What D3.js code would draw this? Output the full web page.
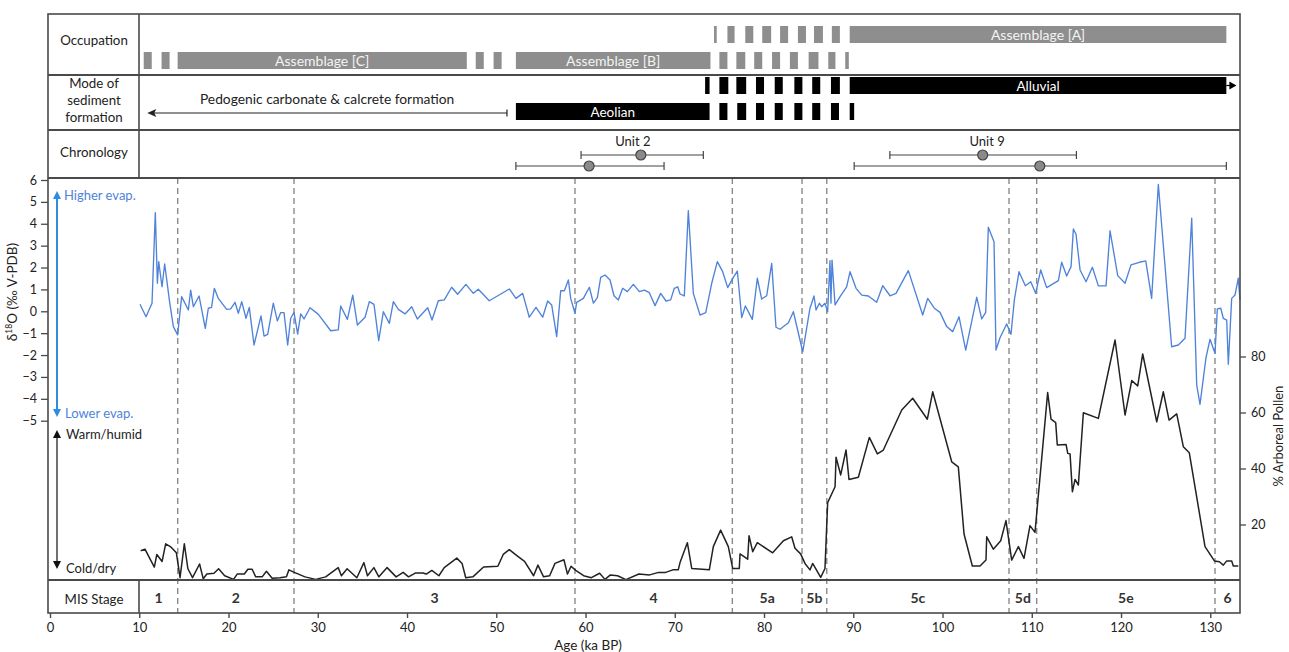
<!DOCTYPE html>
<html><head><meta charset="utf-8">
<script src="https://cdn.jsdelivr.net/npm/d3@7"></script>
<style>body{margin:0;background:#fff} text{font-family:Lato,"Open Sans",sans-serif}</style>
</head><body><svg id="c" width="1289" height="652"></svg>
<script>
// ---------------- DATA ----------------
const o18Age = [10.08,10.76,11.43,11.8,12.03,12.18,12.55,12.85,13.37,13.82,14.3,14.75,15.5,15.76,16.06,16.7,17.4,17.74,18.1,18.41,18.86,19.79,20.24,20.73,21.1,21.48,21.96,22.33,22.86,23.64,23.98,24.39,25.02,25.47,25.85,26.22,26.63,26.97,27.34,27.75,28.09,28.46,29.13,30.07,31.45,32.3,32.57,33.32,33.92,34.44,35.3,35.78,36.3,36.83,37.35,38.02,38.47,39.03,39.78,40.53,41.16,42.32,42.8,43.51,44.18,45.0,45.67,46.6,47.43,47.99,49.22,51.46,52.21,52.96,53.7,54.45,55.2,55.76,56.21,56.77,57.22,57.63,58.08,58.34,58.82,59.01,59.76,60.43,60.88,61.33,61.7,62.18,62.75,63.19,63.68,64.16,64.69,65.36,66.03,66.59,67.15,67.79,68.42,69.02,69.54,69.95,70.33,70.59,71.07,71.52,72.08,72.83,73.47,74.14,74.77,75.37,75.93,76.56,77.01,77.5,77.91,78.69,79.25,79.74,80.3,80.86,81.34,81.79,82.73,83.29,84.34,85.15,85.6,85.83,86.2,86.46,86.83,87.13,87.39,87.5,87.62,87.96,88.52,89.26,89.64,90.31,90.95,91.69,92.62,93.3,94.12,94.79,96.17,97.78,98.34,99.08,99.72,100.47,101.14,101.85,102.6,103.83,104.39,104.84,105.13,105.77,105.99,106.44,107.19,107.67,108.05,108.57,109.28,109.88,110.44,111.0,111.67,112.98,113.35,113.91,114.4,114.66,114.96,115.41,116.08,116.79,117.46,118.32,118.77,119.63,120.45,121.12,122.05,122.77,123.43,124.18,125.67,126.42,127.17,127.92,128.48,128.85,129.52,129.97,130.53,130.79,131.17,131.46,131.84,132.02,132.4,132.77,133.14,133.33];
const o18Val = [0.32,-0.25,0.37,4.51,1.28,2.27,1.12,2.16,0.52,-0.70,-1.08,0.67,0.06,0.97,0.21,0.70,-0.78,0.14,0.18,1.05,0.59,0.09,0.11,0.41,-0.09,0.44,-0.32,0.18,-1.54,-0.21,-1.13,-1.05,0.37,-0.44,-0.06,-0.06,-1.54,-0.32,-0.05,-1.04,-0.12,-0.35,0.16,-0.14,-0.89,-0.85,0.24,-0.37,0.74,-0.63,-0.27,0.44,0.32,-1.34,-0.02,-0.55,0.44,0.09,-0.12,0.21,-0.35,0.16,-0.40,0.48,0.52,1.10,0.78,1.23,0.82,1.01,0.48,1.02,0.59,0.82,-0.27,0.18,-0.27,0.47,0.29,-1.16,0.94,0.94,1.43,0.59,-0.09,0.41,0.59,1.10,0.37,0.62,1.55,1.66,1.43,0.71,0.52,1.05,0.90,1.23,0.90,0.97,0.85,0.26,0.82,0.47,0.52,1.05,1.12,0.79,0.70,4.60,0.82,-0.17,-0.06,1.28,2.27,1.81,1.08,1.55,1.84,-0.29,0.24,-0.37,1.51,0.56,0.71,2.19,-0.73,-0.82,-0.52,-0.02,-1.85,0.14,0.70,0.06,0.37,0.21,0.37,-0.02,2.31,0.37,2.34,0.29,0.67,1.12,1.81,1.05,0.74,0.70,0.41,1.17,0.71,0.82,1.86,-0.17,0.59,0.14,-0.05,-0.70,-0.93,-0.25,-1.77,0.64,-0.35,-0.05,3.84,3.18,-1.77,-1.21,-0.58,-1.05,0.52,1.81,1.17,1.35,0.82,1.89,1.08,1.40,2.24,1.61,2.04,3.76,3.52,1.89,1.35,2.01,1.16,1.16,3.68,1.63,1.28,2.12,2.24,2.30,0.59,5.80,-1.62,-1.54,-1.23,4.25,-3.37,-4.25,-2.12,-1.28,-1.92,0.11,0.14,-0.32,-0.40,-2.42,0.59,0.74,1.51,0.52];

const pollenAge = [10.16,10.64,11.16,11.69,11.97,12.56,12.96,13.57,14.16,14.57,15.05,15.45,15.97,16.76,17.17,17.57,18.37,18.89,19.57,20.57,20.97,21.77,22.17,22.65,23.05,23.77,24.25,24.89,25.77,26.49,26.77,27.37,28.57,29.77,30.89,31.57,32.29,32.65,33.29,34.38,35.17,35.57,36.29,36.85,37.77,38.78,39.57,40.17,40.97,41.78,42.17,42.78,43.57,44.17,45.58,46.17,46.58,47.38,48.58,50.18,50.78,51.46,52.38,53.17,54.18,54.67,55.3,55.98,56.58,57.58,57.98,58.38,58.9,59.79,60.66,61.58,62.18,62.79,63.59,64.53,65.98,67.18,68.19,68.98,69.79,70.39,70.59,71.41,71.9,73.87,74.32,75.14,76.0,76.49,77.23,77.31,78.17,78.32,78.73,79.25,80.97,82.17,83.1,83.47,84.1,84.59,85.15,85.45,86.35,86.83,87.13,87.96,88.07,88.59,89.19,89.52,90.57,91.8,92.7,93.37,95.43,96.66,98.3,98.9,101.03,101.77,102.41,103.34,104.2,104.87,104.95,105.69,106.52,107.11,107.75,108.5,109.13,109.8,110.36,111.78,112.16,112.68,112.86,113.84,114.03,114.29,114.55,114.85,115.22,115.78,117.46,119.33,120.45,121.2,121.87,122.43,124.0,124.74,125.38,126.24,126.98,127.65,129.41,130.46,131.02,131.46,131.84,132.4,132.58,133.14];
const pollenVal = [10.6,11.2,8.0,4.8,9.3,6.8,13.1,11.9,9.9,1.0,13.1,4.2,1.0,5.9,0.6,2.3,2.6,4.2,1.7,0.4,2.3,2.3,4.0,4.0,1.3,1.3,3.3,0.8,1.0,1.3,3.8,2.9,1.3,0.4,1.3,2.9,4.6,1.7,4.2,1.0,6.4,1.7,4.6,1.3,4.6,1.3,2.9,1.3,2.7,2.7,2.3,3.6,1.7,4.6,8.0,6.1,1.0,1.3,4.8,5.1,9.3,11.0,8.7,6.8,1.7,5.5,1.3,1.7,6.1,7.4,2.3,5.1,3.6,1.7,1.0,2.6,0.4,2.0,1.7,0.3,2.3,2.0,2.9,2.9,3.8,3.8,6.4,13.5,4.3,3.8,12.1,18.0,12.1,4.3,4.3,9.5,7.6,16.0,10.3,13.5,9.9,14.2,15.6,11.5,9.5,6.1,3.8,6.1,1.1,4.3,27.8,33.5,44.0,37.7,46.6,36.1,36.9,51.1,45.2,46.6,60.9,65.1,57.6,67.4,42.4,40.6,16.6,5.2,5.2,7.3,15.6,11.2,14.2,21.4,7.3,12.1,7.9,19.6,17.2,67.1,57.6,56.4,48.4,48.6,45.4,45.2,31.7,36.1,34.1,59.9,57.9,85.9,59.1,71.4,69.5,80.9,56.7,67.4,57.3,59.5,47.8,45.6,12.1,7.0,6.7,5.5,7.0,7.0,5.2,5.2];

const ageTicks = [0,10,20,30,40,50,60,70,80,90,100,110,120,130];
const o18Ticks = [6,5,4,3,2,1,0,-1,-2,-3,-4,-5];
const pollenTicks = [20,40,60,80];

const misBounds = [10,14.31,27.34,58.82,76.45,84.26,87.03,107.45,110.55,130.53,133.33];
const misLabels = ["1","2","3","4","5a","5b","5c","5d","5e","6"];

const assemblageNames = ["Assemblage [A]","Assemblage [B]","Assemblage [C]"];
const assemblageSpans = [[89.6,131.8],[52.2,74.0],[14.3,46.7]];
const assemblageRows = [0,1,1];
const occUpperDashes = [[74.4,74.7],[75.9,76.7],[77.9,78.8],[79.8,80.8],[81.8,82.7],[83.8,84.7],[85.6,86.6],[87.6,88.5]];
const occLowerDashes = [[10.5,11.4],[12.5,13.4],[47.7,48.6],[49.7,50.6],[75.0,75.9],[76.9,77.9],[78.9,79.8],[80.9,81.8],[82.9,83.8],[85.0,86.1],[87.2,88.0],[89.1,89.5]];

const sedimentNames = ["Alluvial","Aeolian"];
const sedimentSpans = [[89.6,131.8],[52.2,73.9]];
const sedimentRows = [0,1];
const modeUpperDashes = [[73.4,73.9],[75.0,76.0],[76.9,78.0],[79.1,80.0],[81.2,82.1],[83.4,84.3],[85.4,86.3],[87.5,88.5]];
const modeLowerDashes = [[75.0,75.9],[77.0,78.0],[79.1,80.0],[81.2,82.1],[83.4,84.3],[85.4,86.3],[87.5,88.4],[89.6,90.1]];
const pedogenicSpan = [51.2,10.9];
const pedogenicLabel = "Pedogenic carbonate & calcrete formation";

const unitNames = ["Unit 2","Unit 9"];
const unitLabelAge = [65.3,105.0];
const dateLow = [59.5,52.2,94.1,90.1];
const dateMid = [66.2,60.4,104.5,110.9];
const dateHigh = [73.2,68.8,115.0,131.8];
const dateRow = [0,1,0,1];

// ---------------- LAYOUT ----------------
const svg = d3.select("#c");
const L = 48, R = 1240, T = 14, yOcc = 75, yMode = 130, yChr = 178, yPlotB = 580, yMis = 613, colX = 139;
const x = d3.scaleLinear().domain([0,133.33]).range([50,1240]);
const yO = d3.scaleLinear().domain([-5,6]).range([420.7,180]);
const yP = d3.scaleLinear().domain([0,100]).range([580.5,300.5]);
const frame = "#4a4a4a";
const gray = "#8e8e8e";
const blue = "#4f83da";

// dashed MIS boundaries
const dashB = misBounds.slice(1,-1);
svg.append("g").selectAll("line").data(dashB).join("line")
  .attr("x1",d=>x(d)).attr("x2",d=>x(d)).attr("y1",yChr).attr("y2",yMis)
  .attr("stroke","#8a8a8a").attr("stroke-width",1.4).attr("stroke-dasharray","6,4");

// lines
const lineO = d3.line().x((d,i)=>x(o18Age[i])).y((d,i)=>yO(o18Val[i]));
svg.append("path").attr("d",lineO(o18Age)).attr("fill","none").attr("stroke",blue).attr("stroke-width",1.35).attr("stroke-linejoin","round");
const lineP = d3.line().x((d,i)=>x(pollenAge[i])).y((d,i)=>yP(pollenVal[i]));
svg.append("path").attr("d",lineP(pollenAge)).attr("fill","none").attr("stroke","#222").attr("stroke-width",1.5).attr("stroke-linejoin","round");

// frame
const fr = svg.append("g").attr("stroke",frame).attr("fill","none");
fr.append("rect").attr("x",L).attr("y",T).attr("width",R-L).attr("height",yMis-T).attr("stroke-width",1.6);
[yOcc,yMode,yChr,yPlotB].forEach(yy=>fr.append("line").attr("x1",L).attr("x2",R).attr("y1",yy).attr("y2",yy).attr("stroke-width",1.8));
fr.append("line").attr("x1",colX).attr("x2",colX).attr("y1",T).attr("y2",yChr).attr("stroke-width",1.6);
fr.append("line").attr("x1",colX).attr("x2",colX).attr("y1",yPlotB).attr("y2",yMis).attr("stroke-width",1.6);

// row labels
const lab = svg.append("g").attr("font-size",13.3).attr("fill","#222").attr("text-anchor","middle");
lab.append("text").attr("x",94).attr("y",45).text("Occupation");
lab.append("text").attr("x",94).attr("y",88).text("Mode of");
lab.append("text").attr("x",94).attr("y",105).text("sediment");
lab.append("text").attr("x",94).attr("y",122).text("formation");
lab.append("text").attr("x",94).attr("y",157).text("Chronology");
lab.append("text").attr("x",94).attr("y",604).text("MIS Stage");

// occupation
const rowY = [26,52];
const barH = 17;
const occ = svg.append("g");
occ.selectAll("rect.u").data(occUpperDashes).join("rect").attr("x",d=>x(d[0])).attr("width",d=>x(d[1])-x(d[0])).attr("y",rowY[0]).attr("height",barH).attr("fill",gray);
occ.selectAll("rect.l").data(occLowerDashes).join("rect").attr("x",d=>x(d[0])).attr("width",d=>x(d[1])-x(d[0])).attr("y",rowY[1]).attr("height",barH).attr("fill",gray);
assemblageNames.forEach((n,i)=>{
  const s = assemblageSpans[i];
  occ.append("rect").attr("x",x(s[0])).attr("width",x(s[1])-x(s[0])).attr("y",rowY[assemblageRows[i]]).attr("height",barH).attr("fill",gray);
  occ.append("text").attr("x",(x(s[0])+x(s[1]))/2).attr("y",rowY[assemblageRows[i]]+13.5).attr("text-anchor","middle").attr("fill","#f4f4f4").attr("font-size",14).text(n);
});

// mode of sediment
const mRowY = [77,103];
const md = svg.append("g");
md.selectAll("rect.u").data(modeUpperDashes).join("rect").attr("x",d=>x(d[0])).attr("width",d=>x(d[1])-x(d[0])).attr("y",mRowY[0]).attr("height",barH).attr("fill","#000");
md.selectAll("rect.l").data(modeLowerDashes).join("rect").attr("x",d=>x(d[0])).attr("width",d=>x(d[1])-x(d[0])).attr("y",mRowY[1]).attr("height",barH).attr("fill","#000");
sedimentNames.forEach((n,i)=>{
  const s = sedimentSpans[i];
  md.append("rect").attr("x",x(s[0])).attr("width",x(s[1])-x(s[0])).attr("y",mRowY[sedimentRows[i]]).attr("height",barH).attr("fill","#000");
  md.append("text").attr("x",(x(s[0])+x(s[1]))/2).attr("y",mRowY[sedimentRows[i]]+13.5).attr("text-anchor","middle").attr("fill","#fff").attr("font-size",13.5).text(n);
});
// alluvial arrow tip
{ const ax = x(sedimentSpans[0][1]); const cy = mRowY[0]+barH/2;
  md.append("line").attr("x1",ax).attr("x2",ax+9).attr("y1",cy).attr("y2",cy).attr("stroke","#000").attr("stroke-width",1.2);
  md.append("path").attr("d",`M${ax+3},${cy-4}L${ax+10},${cy}L${ax+3},${cy+4}Z`).attr("fill","#000"); }
// pedogenic arrow
{ const x1 = x(pedogenicSpan[0]), x2 = x(pedogenicSpan[1]), cy = 113;
  md.append("line").attr("x1",x1).attr("x2",x2+4).attr("y1",cy).attr("y2",cy).attr("stroke","#222").attr("stroke-width",1.2);
  md.append("line").attr("x1",x1).attr("x2",x1).attr("y1",cy-3.5).attr("y2",cy+3.5).attr("stroke","#222").attr("stroke-width",1.2);
  md.append("path").attr("d",`M${x2},${cy}L${x2+9},${cy-4}L${x2+7},${cy}L${x2+9},${cy+4}Z`).attr("fill","#222");
  md.append("text").attr("x",(x1+x2)/2).attr("y",104).attr("text-anchor","middle").attr("font-size",13.8).attr("fill","#222").text(pedogenicLabel); }

// chronology
const cRowY = [155,166];
const ch = svg.append("g");
unitNames.forEach((n,i)=>ch.append("text").attr("x",x(unitLabelAge[i])).attr("y",146).attr("text-anchor","middle").attr("font-size",13).attr("fill","#222").text(n));
dateLow.forEach((lo,i)=>{
  const cy = cRowY[dateRow[i]];
  ch.append("line").attr("x1",x(lo)).attr("x2",x(dateHigh[i])).attr("y1",cy).attr("y2",cy).attr("stroke","#444").attr("stroke-width",1.2);
  [lo,dateHigh[i]].forEach(v=>ch.append("line").attr("x1",x(v)).attr("x2",x(v)).attr("y1",cy-4).attr("y2",cy+4).attr("stroke","#444").attr("stroke-width",1.2));
  ch.append("circle").attr("cx",x(dateMid[i])).attr("cy",cy).attr("r",5).attr("fill","#8a8a8a").attr("stroke","#444").attr("stroke-width",1.2);
});

// MIS labels
svg.append("g").selectAll("text").data(misLabels).join("text")
  .attr("x",(d,i)=>(x(misBounds[i])+x(misBounds[i+1]))/2).attr("y",603)
  .attr("text-anchor","middle").attr("font-size",14).attr("font-weight","bold").attr("fill","#333").text(d=>d);

// x axis
const xa = svg.append("g").attr("transform",`translate(0,${yMis})`)
  .call(d3.axisBottom(x).tickValues(ageTicks).tickSize(5).tickSizeOuter(0).tickPadding(5));
xa.select(".domain").remove();
xa.selectAll("line").attr("stroke",frame).attr("stroke-width",1.4);
xa.selectAll("text").attr("font-size",13).attr("fill","#222").attr("font-family","Lato");
svg.append("text").attr("x",588).attr("y",650).attr("text-anchor","middle").attr("font-size",13.5).attr("fill","#222").text("Age (ka BP)");

// left axis
const ya = svg.append("g").attr("transform",`translate(${L},0)`)
  .call(d3.axisLeft(yO).tickValues(o18Ticks).tickSize(7).tickPadding(4).tickFormat(d3.format("d")));
ya.select(".domain").remove();
ya.selectAll("line").attr("stroke",frame).attr("stroke-width",1.3);
ya.selectAll("text").attr("font-size",12.5).attr("fill","#222").attr("font-family","Lato");
const ylab = svg.append("text").attr("transform","translate(17,292) rotate(-90)").attr("text-anchor","middle").attr("font-size",13.5).attr("fill","#222").attr("font-family","Liberation Sans, Arial, sans-serif");
ylab.append("tspan").text("δ");
ylab.append("tspan").attr("font-size",8.5).attr("dy",-5).text("18");
ylab.append("tspan").attr("dy",5).text("O (‰ V-PDB)");

// right axis
const yr = svg.append("g").attr("transform",`translate(${R},0)`)
  .call(d3.axisRight(yP).tickValues(pollenTicks).tickSize(6).tickPadding(5));
yr.select(".domain").remove();
yr.selectAll("line").attr("stroke",frame).attr("stroke-width",1.3);
yr.selectAll("text").attr("font-size",12.5).attr("fill","#222").attr("font-family","Liberation Sans, Arial, sans-serif");
svg.append("text").attr("transform","translate(1283,436) rotate(-90)").attr("text-anchor","middle").attr("font-size",13).attr("fill","#222").attr("font-family","Liberation Sans, Arial, sans-serif").text("% Arboreal Pollen");

// direction arrows
const arr = svg.append("g");
function vArrow(x0,y1,y2,col,w){
  arr.append("line").attr("x1",x0).attr("x2",x0).attr("y1",y1+6).attr("y2",y2-6).attr("stroke",col).attr("stroke-width",w);
  arr.append("path").attr("d",`M${x0},${y1}L${x0-4},${y1+8}L${x0+4},${y1+8}Z`).attr("fill",col);
  arr.append("path").attr("d",`M${x0},${y2}L${x0-4},${y2-8}L${x0+4},${y2-8}Z`).attr("fill",col);
}
vArrow(57,191,417,"#2f8de0",2);
vArrow(57,430,569,"#111",1.2);
arr.append("text").attr("x",64).attr("y",200).attr("font-size",13).attr("fill",blue).text("Higher evap.");
arr.append("text").attr("x",65).attr("y",418).attr("font-size",13).attr("fill",blue).text("Lower evap.");
arr.append("text").attr("x",66).attr("y",439).attr("font-size",13).attr("fill","#222").text("Warm/humid");
arr.append("text").attr("x",66).attr("y",573).attr("font-size",13).attr("fill","#222").text("Cold/dry");
</script></body></html>
